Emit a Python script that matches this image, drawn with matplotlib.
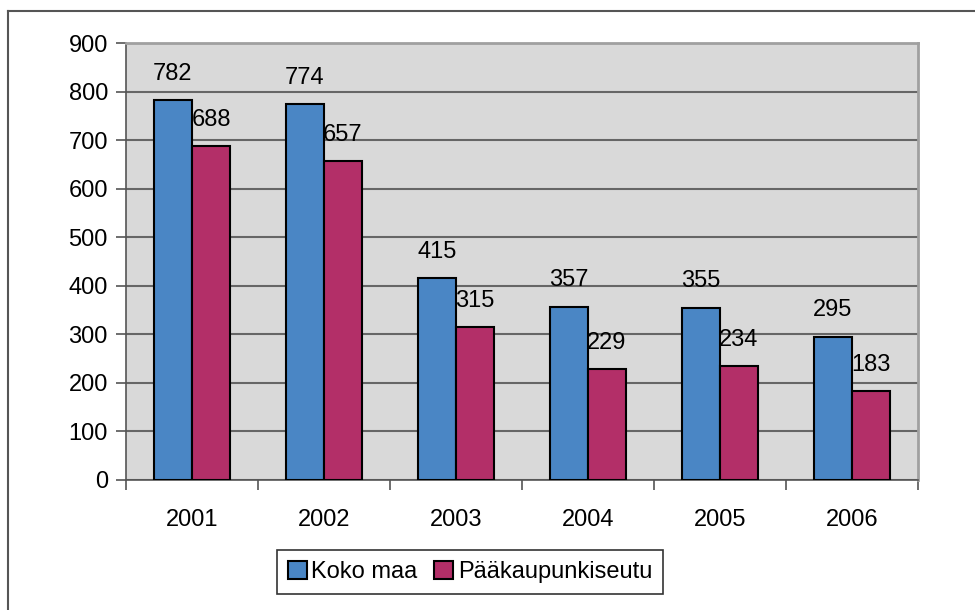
import matplotlib
matplotlib.use("Agg")
import matplotlib.pyplot as plt
from matplotlib.lines import Line2D
from matplotlib.patches import Patch
import numpy as np

plt.rcParams['font.family'] = ['Liberation Sans', 'DejaVu Sans']

years = ["2001", "2002", "2003", "2004", "2005", "2006"]
koko_maa = [782, 774, 415, 357, 355, 295]
paakaupunkiseutu = [688, 657, 315, 229, 234, 183]
series_names = ["Koko maa", "Pääkaupunkiseutu"]
yticks = [0, 100, 200, 300, 400, 500, 600, 700, 800, 900]

c_blue = "#4A86C5"
c_mag = "#B32F68"

fig = plt.figure(figsize=(9.75, 6.1), dpi=100)
W, H = 975, 610
ax = fig.add_axes([126 / W, 1 - 480 / H, (918 - 126) / W, (480 - 43) / H])
ax.set_facecolor("#D9D9D9")

x = np.arange(len(years))
bw = 0.288
b1 = ax.bar(x - bw / 2, koko_maa, bw, color=c_blue, edgecolor="black", linewidth=1.5, zorder=3)
b2 = ax.bar(x + bw / 2, paakaupunkiseutu, bw, color=c_mag, edgecolor="black", linewidth=1.5, zorder=3)

fs = 17
for bars, vals in ((b1, koko_maa), (b2, paakaupunkiseutu)):
    for r, v in zip(bars, vals):
        ax.annotate(str(v), (r.get_x() + r.get_width() / 2, v), xytext=(0, 11),
                    textcoords="offset points", ha="center", va="bottom", fontsize=fs, zorder=5)

ax.set_xlim(-0.5, len(years) - 0.5)
ax.set_ylim(0, 900)
ax.set_yticks(yticks)
ax.set_yticklabels([str(t) for t in yticks], fontsize=fs)
ax.yaxis.grid(True, color="#666666", linewidth=1.5, zorder=1)
ax.set_axisbelow(True)

ax.set_xticks(x)
ax.set_xticklabels(years, fontsize=fs)
ax.tick_params(axis="x", length=0, pad=21)
ax.set_xticks(np.arange(-0.5, len(years)), minor=True)
ax.tick_params(axis="x", which="minor", length=7, width=1.2, color="#555555")
ax.tick_params(axis="y", length=7, width=1.2, color="#555555", pad=6)

for s in ("top", "right"):
    ax.spines[s].set_color("#A0A0A0")
    ax.spines[s].set_linewidth(2)
for s in ("left", "bottom"):
    ax.spines[s].set_color("#555555")
    ax.spines[s].set_linewidth(1.2)

handles = [Patch(facecolor=c_blue, edgecolor="black", linewidth=1.5),
           Patch(facecolor=c_mag, edgecolor="black", linewidth=1.5)]
leg = fig.legend(handles, series_names, loc="center", bbox_to_anchor=(470 / W, 1 - 572 / H),
                 ncol=2, fontsize=fs, frameon=True, fancybox=False, edgecolor="black",
                 handlelength=0.8, handleheight=0.8, handletextpad=0.2, columnspacing=0.7,
                 borderpad=0.45)
leg.get_frame().set_linewidth(1.2)

# figure border (left and top visible)
fig.add_artist(Line2D([8 / W, 8 / W], [0, 1 - 11 / H], transform=fig.transFigure,
                      color="#555555", linewidth=1.5))
fig.add_artist(Line2D([8 / W, 1], [1 - 11 / H, 1 - 11 / H], transform=fig.transFigure,
                      color="#555555", linewidth=1.5))

fig.savefig("out.png", dpi=100)
